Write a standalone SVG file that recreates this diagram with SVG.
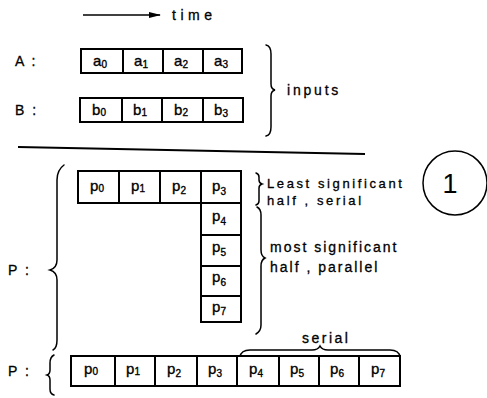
<svg xmlns="http://www.w3.org/2000/svg" width="487" height="398" viewBox="0 0 487 398">
<defs>
<style>
.c{fill:#fff;stroke:#000;stroke-width:2}
.t{font-family:"Liberation Sans",Arial,sans-serif;font-size:15px;fill:#000;stroke:#000;stroke-width:0.35;text-anchor:middle}
.s{font-size:10px}
.l{font-family:"Liberation Sans",Arial,sans-serif;font-size:14px;fill:#000;stroke:#000;stroke-width:0.3;letter-spacing:2px}
.b{fill:none;stroke:#000;stroke-width:1.5;stroke-linecap:round}
</style>
<marker id="ah" markerWidth="12" markerHeight="7" refX="11" refY="3.5" orient="auto" markerUnits="userSpaceOnUse">
<path d="M0,0.5 L12,3.5 L0,6.5 z" fill="#000"/>
</marker>
</defs>
<rect width="487" height="398" fill="#fff"/>

<g id="connectors">
<line x1="83" y1="15" x2="160" y2="15" stroke="#000" stroke-width="1.5" marker-end="url(#ah)"/>
<line x1="18" y1="147" x2="365" y2="154" stroke="#000" stroke-width="2"/>
<path class="b" d="M266,45 Q271,46 271,54 L271,84 Q271,89 275,90 Q271,91 271,96 L271,127 Q271,135 266,136"/>
<path class="b" d="M256,173 Q259,174 259,177 L259,180 Q259,183 262,184 Q259,185 259,188 L259,201 Q259,204 256,205"/>
<path class="b" d="M257,207 Q261,209 261,215 L261,250 Q261,256 265,258 Q261,260 261,266 L261,325 Q261,331 256,334"/>
<path class="b" d="M64,165 Q57,170 57,180 L57,260 Q57,268 50,270 Q57,272 57,280 L57,340 Q57,348 53,350"/>
<path class="b" d="M54,355 Q50,357 50,363 L50,370 Q50,374 47,375 Q50,376 50,380 L50,389 Q50,394 54,395"/>
<path class="b" d="M240,357 Q241,350 250,350 L312,350 Q318,350 320,346 Q322,350 328,350 L390,350 Q399,350 400,357"/>
</g>

<g id="time-label"><text class="l" x="172" y="20" style="letter-spacing:4.5px">time</text></g>
<g id="label-A"><text class="l" x="15" y="66">A :</text></g>
<g id="label-B"><text class="l" x="15" y="115">B :</text></g>
<g id="label-inputs"><text class="l" x="287" y="95" style="letter-spacing:2.8px">inputs</text></g>
<g id="label-P1"><text class="l" x="8" y="275">P :</text></g>
<g id="label-P2"><text class="l" x="8" y="376">P :</text></g>
<g id="label-lsh"><text class="l" x="267" y="188" style="font-size:13px;letter-spacing:2.6px">Least significant</text><text class="l" x="267" y="205" style="font-size:13px;letter-spacing:2.6px">half , serial</text></g>
<g id="label-msh"><text class="l" x="270" y="252">most significant</text><text class="l" x="270" y="272">half , parallel</text></g>
<g id="label-serial"><text class="l" x="302" y="343" style="letter-spacing:2.5px">serial</text></g>
<g id="circle-1"><circle cx="455" cy="183" r="32" fill="none" stroke="#000" stroke-width="1.5"/><text class="t" x="450" y="193" style="font-size:27px;stroke-width:0">1</text></g>

<g id="row-A">
<rect class="c" x="81" y="49" width="42" height="24"/><text class="t" x="100" y="66">a<tspan class="s" dy="2">0</tspan></text>
<rect class="c" x="123" y="49" width="40" height="24"/><text class="t" x="141" y="66">a<tspan class="s" dy="2">1</tspan></text>
<rect class="c" x="163" y="49" width="40" height="24"/><text class="t" x="181" y="66">a<tspan class="s" dy="2">2</tspan></text>
<rect class="c" x="203" y="49" width="39" height="24"/><text class="t" x="221" y="66">a<tspan class="s" dy="2">3</tspan></text>
</g>
<g id="row-B">
<rect class="c" x="80" y="98" width="42" height="24"/><text class="t" x="99" y="115">b<tspan class="s" dy="1">0</tspan></text>
<rect class="c" x="122" y="98" width="40" height="24"/><text class="t" x="140" y="115">b<tspan class="s" dy="1">1</tspan></text>
<rect class="c" x="162" y="98" width="41" height="24"/><text class="t" x="181" y="115">b<tspan class="s" dy="1">2</tspan></text>
<rect class="c" x="203" y="98" width="40" height="24"/><text class="t" x="221" y="115">b<tspan class="s" dy="2">3</tspan></text>
</g>
<g id="product-LP">
<rect class="c" x="78" y="171" width="41" height="32"/><text class="t" x="97" y="191">p<tspan class="s" dy="1">0</tspan></text>
<rect class="c" x="119" y="171" width="41" height="32"/><text class="t" x="138" y="191">p<tspan class="s" dy="1">1</tspan></text>
<rect class="c" x="160" y="171" width="41" height="32"/><text class="t" x="179" y="191">p<tspan class="s" dy="3">2</tspan></text>
<rect class="c" x="201" y="171" width="40" height="32"/><text class="t" x="219" y="191">p<tspan class="s" dy="4">3</tspan></text>
</g>
<g id="product-MP">
<rect class="c" x="201" y="203" width="40" height="32"/><text class="t" x="219" y="221">p<tspan class="s" dy="4">4</tspan></text>
<rect class="c" x="201" y="235" width="40" height="31"/><text class="t" x="219" y="252">p<tspan class="s" dy="4">5</tspan></text>
<rect class="c" x="201" y="266" width="40" height="30"/><text class="t" x="219" y="282">p<tspan class="s" dy="4">6</tspan></text>
<rect class="c" x="201" y="296" width="40" height="26"/><text class="t" x="219" y="312">p<tspan class="s" dy="3">7</tspan></text>
</g>
<g id="product-serial">
<rect class="c" x="71" y="356" width="44" height="30"/><text class="t" x="91" y="374">p<tspan class="s" dy="1">0</tspan></text>
<rect class="c" x="115" y="356" width="40" height="30"/><text class="t" x="133" y="374">p<tspan class="s" dy="1">1</tspan></text>
<rect class="c" x="155" y="356" width="42" height="30"/><text class="t" x="174" y="374">p<tspan class="s" dy="3">2</tspan></text>
<rect class="c" x="197" y="356" width="40" height="30"/><text class="t" x="215" y="374">p<tspan class="s" dy="3">3</tspan></text>
<rect class="c" x="237" y="356" width="42" height="30"/><text class="t" x="256" y="374">p<tspan class="s" dy="3">4</tspan></text>
<rect class="c" x="279" y="356" width="40" height="30"/><text class="t" x="297" y="374">p<tspan class="s" dy="3">5</tspan></text>
<rect class="c" x="319" y="356" width="40" height="30"/><text class="t" x="337" y="374">p<tspan class="s" dy="3">6</tspan></text>
<rect class="c" x="359" y="356" width="41" height="30"/><text class="t" x="378" y="374">p<tspan class="s" dy="3">7</tspan></text>
</g>
</svg>
